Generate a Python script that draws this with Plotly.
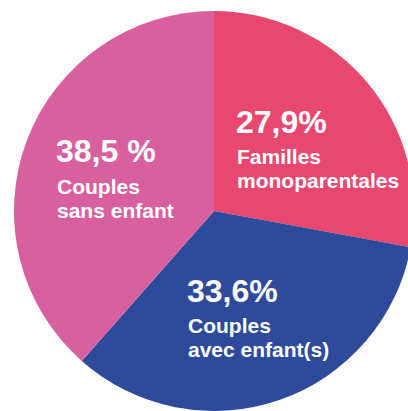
import plotly.graph_objects as go

labels = ["Familles monoparentales", "Couples avec enfant(s)", "Couples sans enfant"]
values = [27.9, 33.6, 38.5]
pct_text = ["27,9%", "33,6%", "38,5 %"]
name_lines = [["Familles", "monoparentales"], ["Couples", "avec enfant(s)"], ["Couples", "sans enfant"]]
colors = ["#E8476F", "#2E4A9A", "#D9609F"]

W, H = 420, 411
fig = go.Figure(go.Pie(
    labels=labels, values=values, sort=False, direction="clockwise", rotation=0,
    marker=dict(colors=colors, line=dict(width=0)),
    textinfo="none", hoverinfo="label+percent", showlegend=False,
    domain=dict(x=[14 / W, 414 / W], y=[0, 1 - 11 / H]),
))

# label anchor positions (pixels: left x, baseline y of the percentage line)
anchors = [(236, 132), (187, 301), (56, 162)]
line_gap = [(31, 24), (31, 24), (31, 24)]

def px2paper(x, y):
    return x / W, 1 - y / H

ann = []
for i in range(3):
    x0, yb = anchors[i]
    g1, g2 = line_gap[i]
    px, py = px2paper(x0 - 2, yb - 10.5)
    ann.append(dict(x=px, y=py, xref="paper", yref="paper", xanchor="left", yanchor="middle",
                    text="<b>" + pct_text[i] + "</b>", showarrow=False,
                    font=dict(family="Liberation Sans, Arial", size=32, color="white")))
    for j, t in enumerate(name_lines[i]):
        by = yb + g1 + j * g2
        px, py = px2paper(x0 - 1, by - 7)
        ann.append(dict(x=px, y=py, xref="paper", yref="paper", xanchor="left", yanchor="middle",
                        text="<b>" + t + "</b>", showarrow=False,
                        font=dict(family="Liberation Sans, Arial", size=21, color="white")))

fig.update_layout(width=W, height=H, margin=dict(l=0, r=0, t=0, b=0),
                  paper_bgcolor="white", plot_bgcolor="white", annotations=ann)
fig.write_html("out.html", config={"displayModeBar": False},
               post_script="document.body.style.margin='0';document.body.style.overflow='hidden';document.documentElement.style.overflow='hidden';")
